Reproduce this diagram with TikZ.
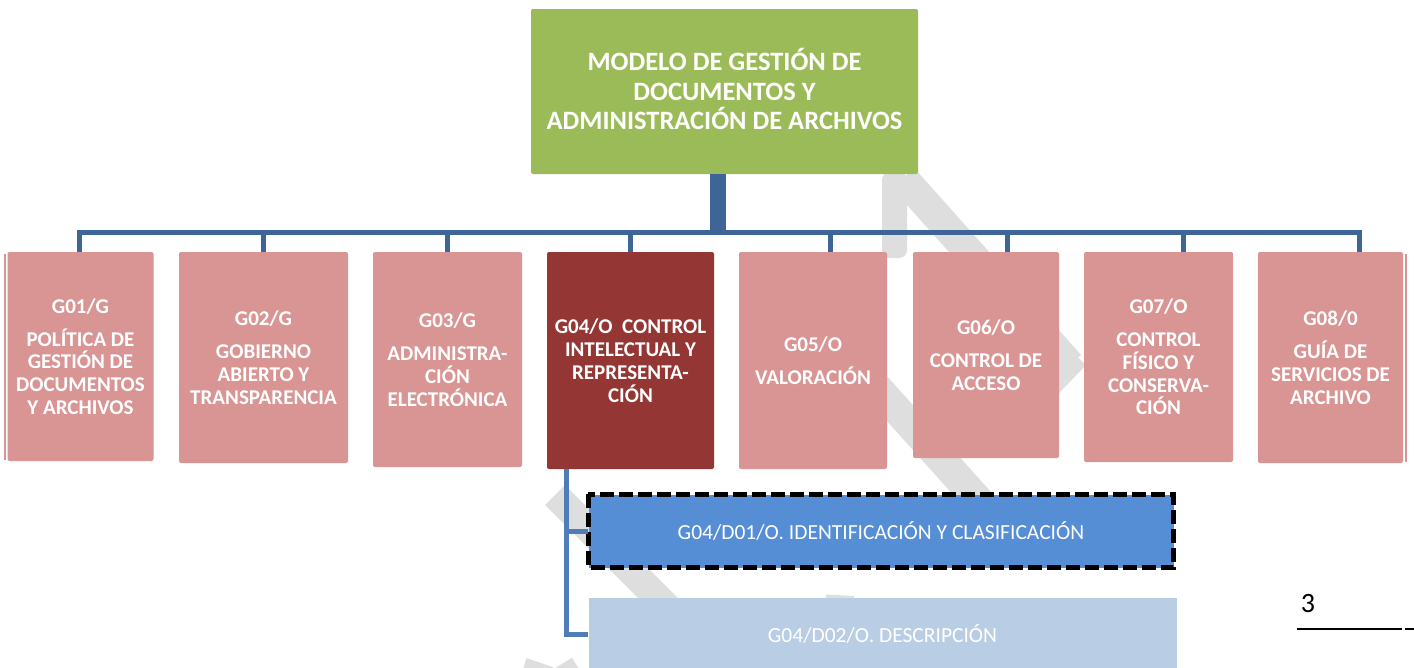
\documentclass[tikz,border=0pt]{standalone}
\usepackage{fontspec}
\setmainfont{Carlito}
\usetikzlibrary{calc}
\definecolor{topgreen}{HTML}{9BBB59}
\definecolor{pinkbox}{HTML}{D99594}
\definecolor{darkred}{HTML}{943634}
\definecolor{trunkblue}{HTML}{3D6597}
\definecolor{subblue}{HTML}{4F7DB8}
\definecolor{dblue}{HTML}{558ED5}
\definecolor{lblue}{HTML}{B9CDE5}
\definecolor{wmgray}{HTML}{DEDEDE}
\tikzset{
  x=1pt, y=-1pt,
  topbox/.style={fill=topgreen, rounded corners=2pt, inner sep=0pt},
  toptext/.style={text=white, align=center,
    font=\bfseries\fontsize{26.5}{29.5}\selectfont, inner sep=0pt},
  gbox/.style={fill=pinkbox, rounded corners=2pt, text=white, align=center,
    font=\bfseries\fontsize{21}{22.8}\selectfont, inner sep=0pt},
  gsel/.style={gbox, fill=darkred},
  trunk/.style={draw=trunkblue, line width=16pt},
  bus/.style={draw=trunkblue, line width=5pt},
  subline/.style={draw=subblue, line width=5pt},
  dbox/.style={text=white, align=center, font=\fontsize{21.5}{24}\selectfont, inner sep=0pt},
  wm/.style={draw=wmgray, line width=30pt},
}
\begin{document}
\begin{tikzpicture}
\useasboundingbox (0,0) rectangle (1414,667);
% watermark (background)
\fill[wmgray, rounded corners=8pt] (882,172) rectangle (907,258);
\draw[wm] (903,178) -- (1070,365);
\fill[wmgray] (1040,322) -- (1086,365) -- (1040,413) -- cycle;
\draw[wm] (872,382) -- (1005,530);
\draw[wm, line width=28pt] (690,590) ++(150:150) arc[start angle=150, end angle=2, radius=150];
\draw[wm, line width=28pt] (555,495) -- (700,640);
\draw[wm, line width=28pt] (615,690) ++(200:80) arc[start angle=200, end angle=125, radius=80];

% top node
\node[topbox, minimum width=387pt, minimum height=165pt] (m) at (724.5,91.5) {};
\node[toptext] (mt) at ($(m.center)+(0,-2.5)$)
  {MODELO DE GESTIÓN DE\\DOCUMENTOS Y\\ADMINISTRACIÓN DE ARCHIVOS};

% level boxes
\draw[pinkbox, line width=1.2pt] (5,254) -- (5,460);
\node[gbox, minimum width=146pt, minimum height=209pt] (g1) at (80.5,356.5)
  {G01/G\\[10pt]POLÍTICA DE\\GESTIÓN DE\\DOCUMENTOS\\Y ARCHIVOS};
\node[gbox, minimum width=169pt, minimum height=211pt] (g2) at (263.5,357.5)
  {G02/G\\[10pt]GOBIERNO\\ABIERTO Y\\TRANSPARENCIA};
\node[gbox, minimum width=149pt, minimum height=215pt] (g3) at (447.5,359.5)
  {G03/G\\[10pt]ADMINISTRA-\\CIÓN\\ELECTRÓNICA};
\node[gsel, minimum width=167pt, minimum height=217pt] (g4) at (630.5,360.5)
  {G04/O\ \ CONTROL\\INTELECTUAL Y\\REPRESENTA-\\CIÓN};
\node[gbox, minimum width=148pt, minimum height=217pt] (g5) at (813,360.5)
  {G05/O\\[10pt]VALORACIÓN};
\node[gbox, minimum width=146pt, minimum height=206pt] (g6) at (986,355)
  {G06/O\\[10pt]CONTROL DE\\ACCESO};
\node[gbox, minimum width=149pt, minimum height=210pt] (g7) at (1158.5,357)
  {G07/O\\[10pt]CONTROL\\FÍSICO Y\\CONSERVA-\\CIÓN};
\node[gbox, minimum width=145pt, minimum height=211pt] (g8) at (1330.5,357.5)
  {G08/0\\[10pt]GUÍA DE\\SERVICIOS DE\\ARCHIVO};
\draw[pinkbox, line width=1.2pt] (1406,254) -- (1406,462);

% bus
\coordinate (b0) at (718,232);
\coordinate (d1) at (79,232);
\coordinate (d2) at (263,232);
\coordinate (d3) at (447,232);
\coordinate (d4) at (630,232);
\coordinate (d5) at (830,232);
\coordinate (d6) at (1007,232);
\coordinate (d7) at (1183,232);
\coordinate (d8) at (1359,232);
\draw[trunk] (m.south -| b0) -- ($(b0)+(0,2)$);
\draw[bus] (d1 |- g1.north) -- (d1) -- (d8) -- (d8 |- g8.north);
\draw[bus] (d2) -- (d2 |- g2.north);
\draw[bus] (d3) -- (d3 |- g3.north);
\draw[bus] (d4) -- (d4 |- g4.north);
\draw[bus] (d5) -- (d5 |- g5.north);
\draw[bus] (d6) -- (d6 |- g6.north);
\draw[bus] (d7) -- (d7 |- g7.north);

% sub boxes
\node[dbox, fill=dblue, minimum width=585pt, minimum height=73pt] (s1) at (881,531)
  {G04/D01/O. IDENTIFICACIÓN Y CLASIFICACIÓN};
\draw[black, line width=5pt, dash pattern=on 14pt off 5pt]
  (s1.north west) rectangle (s1.south east);
\node[dbox, fill=lblue, minimum width=588pt, minimum height=72pt] (s2) at (882.5,634)
  {G04/D02/O. DESCRIPCIÓN};

\coordinate (v) at (566,469);
\draw[subline] (v) -- (v |- s2.west) -- (s2.west);
\draw[subline] (v |- s1.west) -- (s1.west);

% page number
\node[font=\fontsize{28}{30}\selectfont, inner sep=0pt, anchor=base] (pn) at (1308,612) {3};
\coordinate (l1) at (1297,628.5);
\coordinate (l2) at (1402,628.5);
\coordinate (l3) at (1405,628.5);
\coordinate (l4) at (1414,628.5);
\draw[line width=2pt] (l1) -- (l2);
\draw[line width=2pt] (l3) -- (l4);
\end{tikzpicture}
\end{document}
